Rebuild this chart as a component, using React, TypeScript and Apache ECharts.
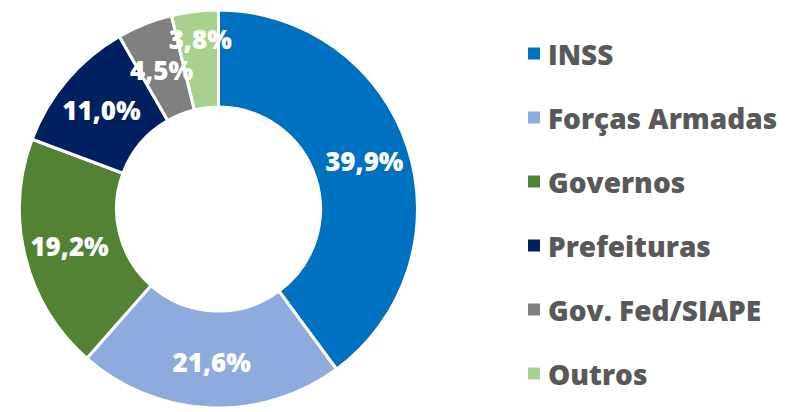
import React, { useEffect, useRef } from "react";
import * as echarts from "echarts";

const categories = ["INSS", "Forças Armadas", "Governos", "Prefeituras", "Gov. Fed/SIAPE", "Outros"];
const values = [39.9, 21.6, 19.2, 11.0, 4.5, 3.8];
const colors = ["#0070C0", "#8FAADC", "#548235", "#002060", "#808080", "#A9D18E"];

export default function App() {
  const ref = useRef<HTMLDivElement>(null);
  useEffect(() => {
    if (!ref.current) return;
    const chart = echarts.init(ref.current, undefined, { renderer: "svg" });
    chart.setOption({
      animation: false,
      legend: {
        orient: "vertical",
        left: 521,
        top: 33,
        itemWidth: 14,
        itemHeight: 14,
        itemGap: 33,
        icon: "rect",
        selectedMode: false,
        data: categories,
        textStyle: {
          fontFamily: "Open Sans",
          fontWeight: 800,
          fontSize: 28,
          lineHeight: 31,
          color: "#595959",
          padding: [0, 0, 0, 2],
        },
      },
      series: [
        {
          type: "pie",
          center: [218.5, 209],
          radius: [102, 199],
          startAngle: 90,
          clockwise: true,
          avoidLabelOverlap: false,
          itemStyle: { borderColor: "#ffffff", borderWidth: 3 },
          label: {
            show: true,
            position: "inside",
            color: "#ffffff",
            fontFamily: "Open Sans",
            fontWeight: 800,
            fontSize: 26,
            formatter: (p: any) => p.value.toFixed(1).replace(".", ",") + "%",
          },
          labelLine: { show: false },
          labelLayout: (params: any) => (params.dataIndex === 5 ? { dy: -18 } : params.dataIndex === 4 ? { dy: 4 } : {}),
          emphasis: { disabled: true },
          data: categories.map((c, i) => ({ name: c, value: values[i], itemStyle: { color: colors[i] } })),
        },
      ],
    });
    return () => chart.dispose();
  }, []);
  return <div ref={ref} style={{ position: "fixed", left: 0, top: 0, width: 794, height: 412, background: "#fff" }} />;
}
